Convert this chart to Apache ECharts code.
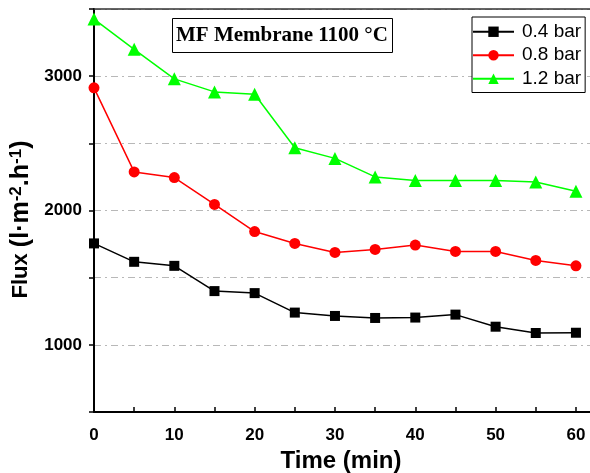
<!DOCTYPE html>
<html>
<head>
<meta charset="utf-8">
<script src="https://cdn.jsdelivr.net/npm/echarts@6/dist/echarts.min.js"></script>
<style>
  html, body { margin: 0; padding: 0; background: #fff; }
  #chart { width: 590px; height: 473px; }
</style>
</head>
<body>
<div id="chart"></div>
<script>
// Permeate flux over time at three transmembrane pressures
const timeMin = [0, 5, 10, 15, 20, 25, 30, 35, 40, 45, 50, 55, 60];
const flux04 = [1755, 1618, 1588, 1400, 1385, 1240, 1215, 1200, 1203, 1225, 1135, 1088, 1090];
const flux08 = [2913, 2287, 2245, 2045, 1843, 1755, 1688, 1710, 1743, 1695, 1695, 1628, 1588];
const flux12 = [3425, 3200, 2980, 2883, 2865, 2467, 2388, 2250, 2223, 2223, 2223, 2212, 2143];
const seriesNames = ['0.4 bar', '0.8 bar', '1.2 bar'];
const yLabelValues = [1000, 2000, 3000];

const pairs = ys => timeMin.map((t, i) => [t, ys[i]]);

const SANS = 'Arial, "Liberation Sans", sans-serif';

const chart = echarts.init(document.getElementById('chart'), null, { renderer: 'canvas' });

const lineSeries = (name, data, color, symbol, size) => ({
  name: name,
  type: 'line',
  data: pairs(data),
  symbol: symbol,
  symbolSize: size,
  showAllSymbol: true,
  lineStyle: { color: color, width: 1.5 },
  itemStyle: { color: color },
  z: 3
});

chart.setOption({
  animation: false,
  backgroundColor: '#fff',
  title: {
    text: 'MF Membrane 1100 °C',
    left: 172,
    top: 18,
    padding: [7, 5, 7, 4],
    borderColor: '#000',
    borderWidth: 1,
    textStyle: {
      fontFamily: '"Liberation Serif", "DejaVu Serif", serif',
      fontWeight: 'bold',
      fontSize: 21,
      color: '#000'
    }
  },
  legend: {
    data: seriesNames,
    orient: 'vertical',
    left: 472,
    top: 17,
    padding: [4, 4, 3, 0],
    itemGap: 2,
    itemWidth: 41,
    itemHeight: 13,
    borderColor: '#000',
    borderWidth: 1,
    backgroundColor: '#fff',
    textStyle: {
      fontFamily: SANS,
      fontSize: 19,
      lineHeight: 21.5,
      color: '#000',
      padding: [0, 0, 0, 3]
    }
  },
  grid: {
    left: 94,
    top: 9,
    width: 498,
    height: 403,
    containLabel: false,
    outerBoundsMode: 'none'
  },
  xAxis: [{
    type: 'value',
    min: 0,
    max: 62,
    interval: 5,
    name: 'Time (min)',
    nameLocation: 'middle',
    nameGap: 34,
    nameTextStyle: {
      fontFamily: SANS,
      fontWeight: 'bold',
      fontSize: 24,
      color: '#000',
      padding: [0, 4, 0, 0]
    },
    axisLine: { show: true, onZero: false, lineStyle: { color: '#000', width: 2 } },
    axisTick: { show: true, inside: true, length: 5, lineStyle: { color: '#000', width: 1.5 } },
    axisLabel: {
      margin: 15,
      fontFamily: SANS,
      fontWeight: 'bold',
      fontSize: 17,
      color: '#000',
      formatter: v => (v % 10 === 0 && v <= 60 ? String(v) : '')
    },
    splitLine: { show: false }
  }, {
    type: 'value',
    position: 'top',
    min: 0,
    max: 62,
    axisLine: { show: true, lineStyle: { color: '#333', width: 1.5 } },
    axisTick: { show: false },
    axisLabel: { show: false },
    splitLine: { show: false }
  }],
  yAxis: {
    type: 'value',
    min: 500,
    max: 3500,
    interval: 500,
    name: 'Flux {b|(l·m}{sup|-2}{b|.h}{sup|-1}{b|)}',
    nameLocation: 'middle',
    nameGap: 54,
    nameRotate: 90,
    nameTextStyle: {
      fontFamily: SANS,
      fontWeight: 'bold',
      fontSize: 22,
      color: '#000',
      padding: [0, 18, 0, 0],
      rich: {
        b: {
          fontFamily: SANS,
          fontWeight: 'bold',
          fontSize: 25,
          color: '#000'
        },
        sup: {
          fontFamily: SANS,
          fontSize: 17,
          verticalAlign: 'top',
          padding: [0, 0, 9, 0],
          color: '#000'
        }
      }
    },
    axisLine: { show: true, onZero: false, lineStyle: { color: '#000', width: 2 } },
    axisTick: { show: true, inside: false, length: 5, lineStyle: { color: '#000', width: 1.5 } },
    axisLabel: {
      margin: 12,
      fontFamily: SANS,
      fontWeight: 'bold',
      fontSize: 17,
      color: '#000',
      formatter: v => (yLabelValues.indexOf(v) >= 0 ? String(v) : '')
    },
    splitLine: {
      show: true,
      lineStyle: { color: '#b8b8b8', width: 1, type: [7, 4, 2, 4] }
    }
  },
  series: [
    lineSeries(seriesNames[0], flux04, '#000000', 'rect', 10),
    lineSeries(seriesNames[1], flux08, '#ff0000', 'circle', 11),
    lineSeries(seriesNames[2], flux12, '#00ff00', 'triangle', 13)
  ]
});
</script>
</body>
</html>
